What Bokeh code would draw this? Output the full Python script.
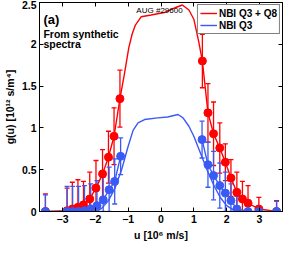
from bokeh.plotting import figure
from bokeh.models import (ColumnDataSource, Whisker, TeeHead, LinearAxis, FixedTicker,
                          Legend, LegendItem, Label, Range1d, CustomJSTickFormatter)
from bokeh.embed import file_html
from bokeh.resources import INLINE

# ---------------- data ----------------
u_red = [-3.52, -2.86, -2.70, -2.53, -2.36, -2.17, -1.98, -1.78, -1.60, -1.43, -1.25,
         1.26, 1.43, 1.60, 1.79, 1.96, 2.13, 2.31, 2.48, 2.65, 2.98, 3.52]
g_red = [0.0, 0.01, 0.03, 0.05, 0.08, 0.15, 0.28, 0.45, 0.65, 0.90, 1.35,
         1.80, 1.18, 0.93, 0.76, 0.59, 0.40, 0.23, 0.15, 0.10, 0.03, 0.0]
e_red = [0.21, 0.27, 0.32, 0.33, 0.28, 0.32, 0.33, 0.29, 0.31, 0.34, 0.34,
         0.32, 0.35, 0.38, 0.30, 0.22, 0.22, 0.24, 0.21, 0.21, 0.14, 0.13]

u_blue = [-3.52, -2.86, -2.69, -2.51, -2.33, -2.14, -1.95, -1.76, -1.58, -1.41, -1.23,
          1.25, 1.43, 1.60, 1.79, 1.96, 2.13, 2.31, 2.65, 2.98, 3.52]
g_blue = [0.0, 0.0, 0.0, 0.0, 0.01, 0.03, 0.07, 0.14, 0.26, 0.36, 0.66,
          0.86, 0.56, 0.43, 0.31, 0.22, 0.13, 0.03, 0.0, 0.0, 0.0]
e_blue = [0.20, 0.30, 0.30, 0.30, 0.30, 0.30, 0.30, 0.27, 0.27, 0.27, 0.22,
          0.22, 0.27, 0.29, 0.27, 0.25, 0.20, 0.15, 0.0, 0.0, 0.12]

# synthetic-spectra model curves
u_red_model = [-1.12, -0.98, -0.88, -0.78, -0.60, -0.30, 0.10, 0.45, 0.65, 0.85, 1.00, 1.15]
g_red_model = [1.63, 1.96, 2.12, 2.23, 2.33, 2.35, 2.38, 2.44, 2.47, 2.41, 2.30, 2.03]

u_blue_model = [-1.95, -1.80, -1.60, -1.40, -1.20, -1.00, -0.85, -0.70, -0.50, -0.10, 0.20,
                0.52, 0.67, 0.85, 1.00, 1.20, 1.40, 1.60, 1.80, 2.00, 2.20, 2.40]
g_blue_model = [0.0, 0.04, 0.13, 0.28, 0.50, 0.78, 0.97, 1.06, 1.10, 1.12, 1.13,
                1.16, 1.12, 1.02, 0.90, 0.70, 0.50, 0.32, 0.17, 0.07, 0.02, 0.0]

x_ticks = [-3, -2, -1, 0, 1, 2, 3]
y_ticks = [0, 0.5, 1, 1.5, 2, 2.5]

RED = "#ff0000"
BLUE = "#3a5af5"
FONT = "Liberation Sans"

# ---------------- figure ----------------
p = figure(width=284, height=243, output_backend="svg", toolbar_location=None,
           x_range=Range1d(-3.7, 3.7), y_range=Range1d(0, 2.5),
           min_border_left=31, min_border_right=2, min_border_top=2, min_border_bottom=29,
           x_axis_location=None, y_axis_location=None)
p.grid.visible = False
p.outline_line_color = "black"
p.outline_line_width = 1
p.background_fill_color = "white"
p.border_fill_color = "white"

fmt = CustomJSTickFormatter(code="return tick < 0 ? '\u2212' + Math.abs(tick) : String(tick);")

def make_axis(axis_label, ticks, show_labels):
    ax = LinearAxis(ticker=FixedTicker(ticks=ticks), formatter=fmt)
    ax.axis_label = axis_label
    ax.major_tick_in = 4
    ax.major_tick_out = 0
    ax.minor_tick_line_color = None
    ax.axis_line_color = "black"
    ax.major_tick_line_color = "black"
    if show_labels:
        ax.major_label_text_font = FONT
        ax.major_label_text_font_style = "bold"
        ax.major_label_text_font_size = "10.5px"
        ax.major_label_text_color = "black"
        ax.major_label_standoff = 3
        ax.axis_label_text_font = FONT
        ax.axis_label_text_font_style = "bold"
        ax.axis_label_text_font_size = "10.5px"
        ax.axis_label_text_color = "black"
        ax.axis_label_standoff = 3
    else:
        ax.major_label_text_color = None
        ax.major_label_standoff = 0
    return ax

p.add_layout(make_axis("u [10\u2076 m/s]", x_ticks, True), "below")
p.add_layout(make_axis("g(u) [10\u00b9\u00b2 s/m\u2074]", y_ticks, True), "left")
p.add_layout(make_axis(None, x_ticks, False), "above")
p.add_layout(make_axis(None, y_ticks, False), "right")

def series(u, g, e, mu, mg, color):
    n_left = sum(1 for v in u if v < 0)
    if mu:
        line_u = list(u[:n_left]) + list(mu) + list(u[n_left:])
        line_g = list(g[:n_left]) + list(mg) + list(g[n_left:])
        r_line = p.line(line_u, line_g, line_color=color, line_width=1.4)
    else:
        r_line = p.line(list(u[:n_left]), list(g[:n_left]), line_color=color, line_width=1.4)
        p.line(list(u[n_left:]), list(g[n_left:]), line_color=color, line_width=1.4)
    src = ColumnDataSource(dict(u=u, g=g,
                                lo=[max(0.0, a - b) for a, b in zip(g, e)],
                                hi=[a + b for a, b in zip(g, e)]))
    w = Whisker(source=src, base="u", lower="lo", upper="hi", dimension="height",
                line_color=color, line_width=1.3,
                lower_head=TeeHead(size=5, line_color=color, line_width=1.3),
                upper_head=TeeHead(size=5, line_color=color, line_width=1.3))
    p.add_layout(w)
    p.scatter("u", "g", source=src, size=8, fill_color=color, line_color=color)
    return r_line

r_red = series(u_red, g_red, e_red, u_red_model, g_red_model, RED)
r_blue_model = p.line(u_blue_model, g_blue_model, line_color=BLUE, line_width=1.4)
series(u_blue, g_blue, e_blue, [], [], BLUE)

legend = Legend(items=[LegendItem(label="NBI Q3 + Q8", renderers=[r_red]),
                       LegendItem(label="NBI Q3", renderers=[r_blue_model])],
                location="top_right")
legend.label_text_font = FONT
legend.label_text_font_style = "bold"
legend.label_text_font_size = "10px"
legend.label_text_color = "black"
legend.border_line_color = "black"
legend.border_line_width = 1
legend.background_fill_alpha = 1
legend.margin = 2
legend.padding = 2
legend.spacing = 0
legend.glyph_width = 17
legend.glyph_height = 12
legend.label_height = 12
legend.label_standoff = 2
p.add_layout(legend)

p.add_layout(Label(x=-3.58, y=2.30, text="(a)", text_font=FONT, text_font_style="bold",
                   text_font_size="13px", text_baseline="middle", text_color="black"))
p.add_layout(Label(x=-3.58, y=2.12, text="From synthetic", text_font=FONT, text_font_style="bold",
                   text_font_size="10.5px", text_baseline="middle", text_color="black"))
p.add_layout(Label(x=-3.58, y=2.00, text="spectra", text_font=FONT, text_font_style="bold",
                   text_font_size="10.5px", text_baseline="middle", text_color="black"))
p.add_layout(Label(x=-0.75, y=2.40, text="AUG #29600", text_font=FONT,
                   text_font_size="8px", text_baseline="middle", text_color="black"))

open("out.html", "w").write(file_html(p, INLINE))
